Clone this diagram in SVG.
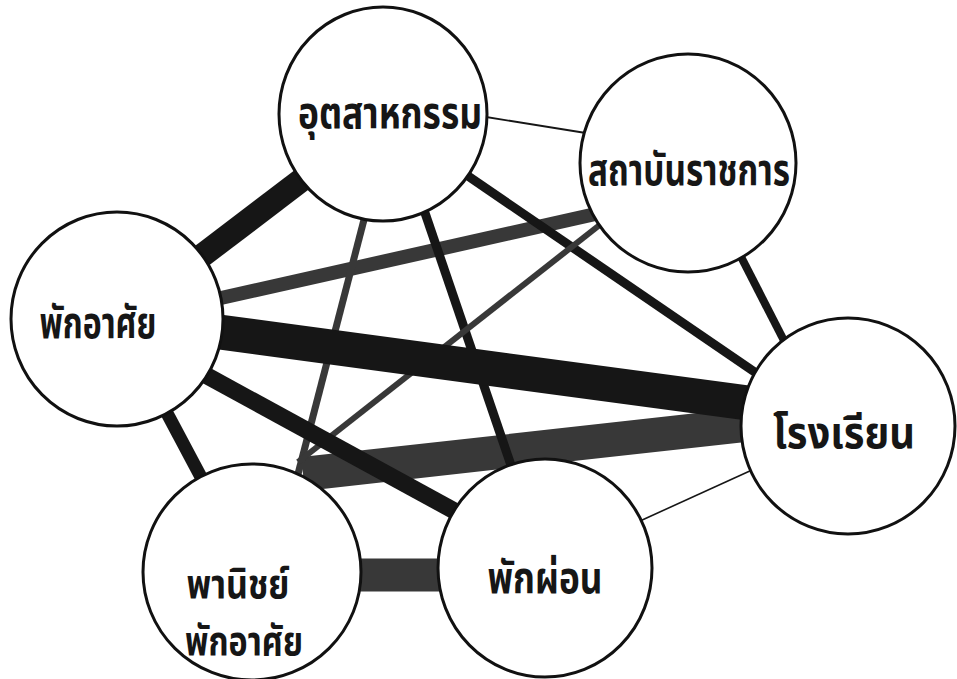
<svg xmlns="http://www.w3.org/2000/svg" width="957" height="679" viewBox="0 0 957 679">
  <style>
    .bg { fill: #ffffff; }
    .node { fill: #ffffff; stroke: #111111; stroke-width: 3; }
    .lbl { font-family: 'Noto Sans Thai', 'Noto Sans', 'DejaVu Sans', sans-serif; font-size: 44px; font-weight: bold; fill: #161616; text-anchor: middle; }
    .lbl2 { font-size: 40px; }
    .edge { stroke-linecap: butt; fill: none; }
    .dark { stroke: #161616; }
    .grey { stroke: #383838; }
  </style>
  <rect class="bg" x="0" y="0" width="957" height="679"/>

  <!-- connectors, drawn under the nodes; line width follows link strength -->
  <g id="connectors" class="edge">
    <line id="e-res-ind" class="dark" x1="191" y1="264" x2="308" y2="175" stroke-width="24"/>
    <line id="e-ind-gov" class="dark" x1="480" y1="116" x2="592" y2="134" stroke-width="1.8"/>
    <line id="e-res-gov" class="grey" x1="212" y1="300" x2="600" y2="213" stroke-width="14"/>
    <line id="e-com-sch" class="grey" x1="303" y1="474" x2="762" y2="423" stroke-width="34"/>
    <line id="e-ind-com" class="grey" x1="366" y1="212" x2="297" y2="478" stroke-width="7"/>
    <line id="e-ind-rec" class="dark" x1="424" y1="210" x2="514" y2="474" stroke-width="9"/>
    <line id="e-ind-sch" class="dark" x1="468" y1="176" x2="762" y2="377" stroke-width="9"/>
    <line id="e-gov-com" class="grey" x1="606" y1="220" x2="298" y2="462" stroke-width="6"/>
    <line id="e-gov-sch" class="dark" x1="736" y1="247" x2="797" y2="366" stroke-width="8"/>
    <line id="e-res-sch" class="dark" x1="212" y1="331" x2="762" y2="405" stroke-width="35"/>
    <line id="e-res-rec" class="dark" x1="200" y1="372" x2="482" y2="526" stroke-width="17"/>
    <line id="e-res-com" class="dark" x1="160" y1="400" x2="210" y2="494" stroke-width="13"/>
    <line id="e-com-rec" class="grey" x1="350" y1="575" x2="450" y2="575" stroke-width="33"/>
    <line id="e-rec-sch" class="dark" x1="640" y1="521" x2="752" y2="470" stroke-width="1.6"/>
  </g>

  <g id="n-industry">
    <ellipse class="node" cx="383" cy="114" rx="104" ry="107"/>
    <text class="lbl" x="390" y="128" textLength="184" lengthAdjust="spacingAndGlyphs">อุตสาหกรรม</text>
  </g>
  <g id="n-government">
    <ellipse class="node" cx="688" cy="163" rx="108" ry="109"/>
    <text class="lbl" x="689" y="185" textLength="202" lengthAdjust="spacingAndGlyphs">สถาบันราชการ</text>
  </g>
  <g id="n-residential">
    <ellipse class="node" cx="117" cy="319" rx="106" ry="107"/>
    <text class="lbl" x="98" y="338" textLength="117" lengthAdjust="spacingAndGlyphs">พักอาศัย</text>
  </g>
  <g id="n-school">
    <ellipse class="node" cx="848" cy="426" rx="107" ry="108"/>
    <text class="lbl" x="844" y="448" textLength="142" lengthAdjust="spacingAndGlyphs">โรงเรียน</text>
  </g>
  <g id="n-commercial">
    <ellipse class="node" cx="252" cy="572" rx="109" ry="108"/>
    <text class="lbl lbl2" x="238" y="598" textLength="103" lengthAdjust="spacingAndGlyphs">พานิชย์</text>
    <text class="lbl lbl2" x="244" y="655" textLength="118" lengthAdjust="spacingAndGlyphs">พักอาศัย</text>
  </g>
  <g id="n-recreation">
    <ellipse class="node" cx="545" cy="568" rx="107" ry="109"/>
    <text class="lbl" x="545" y="593" textLength="115" lengthAdjust="spacingAndGlyphs">พักผ่อน</text>
  </g>
</svg>
